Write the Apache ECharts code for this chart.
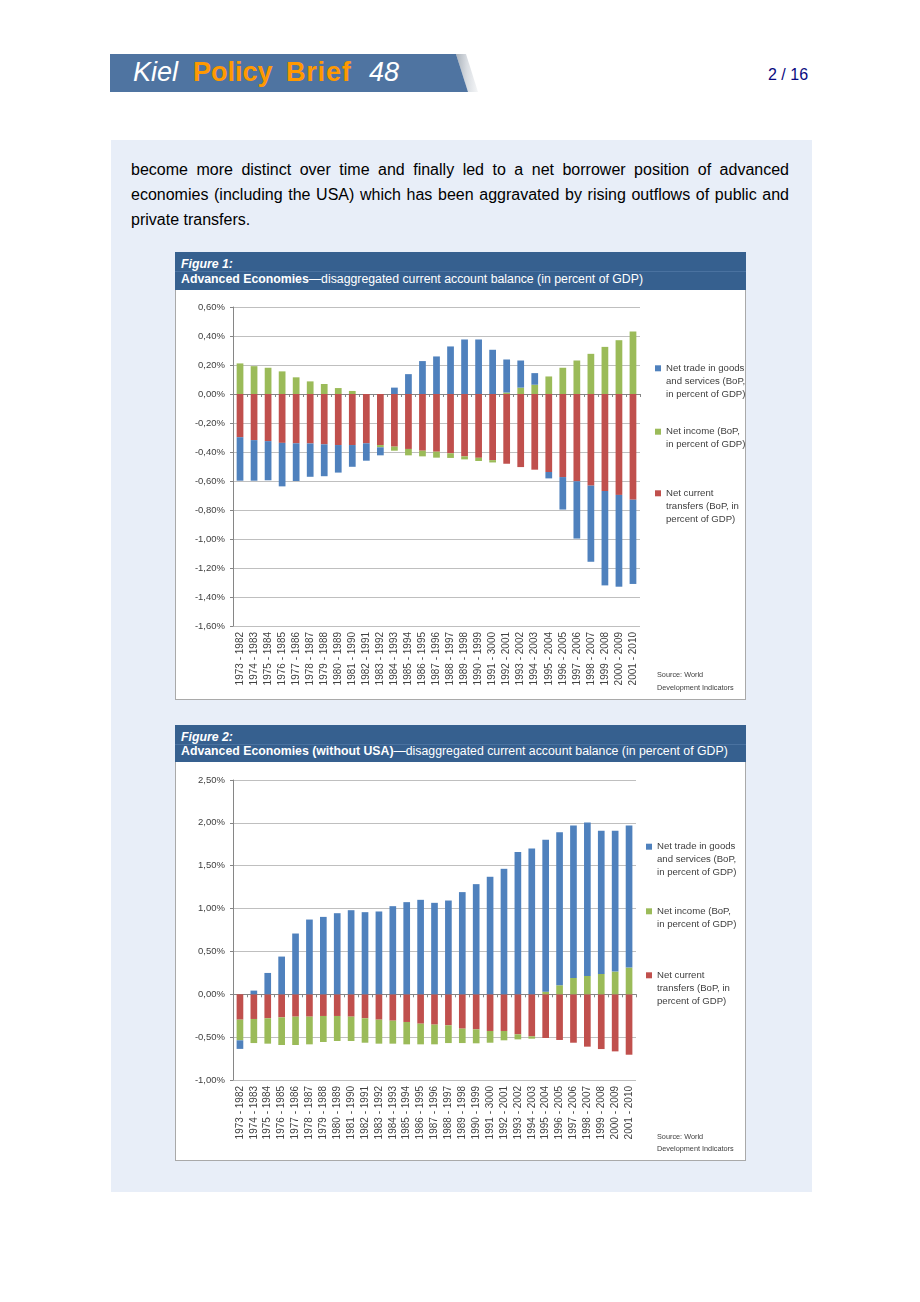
<!DOCTYPE html>
<html>
<head>
<meta charset="utf-8">
<script src="https://cdn.jsdelivr.net/npm/echarts@6/dist/echarts.min.js"></script>
<style>
  html, body { margin: 0; padding: 0; }
  body { width: 920px; height: 1302px; position: relative; background: #ffffff; overflow: hidden;
         font-family: "Liberation Sans", Arial, sans-serif; }
  .abs { position: absolute; }
  #bannerShadow { left: 452px; top: 54px; width: 30px; height: 38px;
     background: linear-gradient(90deg, #9aa3ad 0%, #d9dde2 50%, #ffffff 100%);
     clip-path: polygon(4px 0, 14px 0, 26px 38px, 16px 38px); }
  #banner { left: 110px; top: 54px; width: 360px; height: 38px; background: #4f74a1;
     clip-path: polygon(0 0, 346px 0, 358px 38px, 0 38px); }
  .bt { position: absolute; top: 59px; font-size: 27px; line-height: 27px; white-space: nowrap; }
  .it { font-style: italic; color: #ffffff; }
  .or { font-weight: bold; color: #ff9900; }
  #page { left: 768px; top: 66px; font-size: 16px; line-height: 18px; color: #0a0a80; }
  #box { left: 111px; top: 140px; width: 701px; height: 1052px; background: #e8eef8; }
  #para { left: 131px; top: 157px; width: 658px; font-size: 16px; line-height: 25px; color: #000; }
  #para .j { text-align: justify; text-align-last: justify; white-space: nowrap; }
  .fighead { position: absolute; left: 175px; width: 571px; background: #36608f; color: #fff;
             font-size: 12.3px; }
  .fighead .l1 { position: absolute; left: 6px; font-weight: bold; font-style: italic; }
  .fighead .l2 { position: absolute; left: 6px; white-space: nowrap; }
  .fighead .sep { position: absolute; left: 0; width: 100%; height: 1px; background: #4a72a0; }
  .chartbox { position: absolute; left: 175px; width: 569px; background: #ffffff;
              border: 1px solid #a9a9a9; border-top: none; }
</style>
</head>
<body>
<div id="box" class="abs"></div>
<div id="bannerShadow" class="abs"></div>
<div id="banner" class="abs"></div>
<span class="bt it" style="left:133px">Kiel</span>
<span class="bt or" style="left:193px">Policy</span>
<span class="bt or" style="left:286px;letter-spacing:0.8px">Brief</span>
<span class="bt it" style="left:369px">48</span>
<div id="page" class="abs">2 / 16</div>

<div id="para" class="abs">
  <div class="j">become more distinct over time and finally led to a net borrower position of advanced</div>
  <div class="j">economies (including the USA) which has been aggravated by rising outflows of public and</div>
  <div>private transfers.</div>
</div>

<div class="fighead" style="top:252px;height:38px;">
  <div class="l1" style="top:5px;">Figure 1:</div>
  <div class="sep" style="top:19px;"></div>
  <div class="l2" style="top:20px;"><b>Advanced Economies</b>—disaggregated current account balance (in percent of GDP)</div>
</div>
<div class="chartbox" style="top:290px;height:409px;"><div id="chart1" style="width:569px;height:409px;"></div></div>

<div class="fighead" style="top:725px;height:37px;">
  <div class="l1" style="top:5px;">Figure 2:</div>
  <div class="sep" style="top:19px;"></div>
  <div class="l2" style="top:19px;"><b>Advanced Economies (without USA)</b>—disaggregated current account balance (in percent of GDP)</div>
</div>
<div class="chartbox" style="top:762px;height:398px;"><div id="chart2" style="width:569px;height:398px;"></div></div>

<script>
// ---------- data ----------
const categories = [
  "1973 - 1982", "1974 - 1983", "1975 - 1984", "1976 - 1985", "1977 - 1986", "1978 - 1987",
  "1979 - 1988", "1980 - 1989", "1981 - 1990", "1982 - 1991", "1983 - 1992", "1984 - 1993",
  "1985 - 1994", "1986 - 1995", "1987 - 1996", "1988 - 1997", "1989 - 1998", "1990 - 1999",
  "1991 - 3000", "1992 - 2001", "1993 - 2002", "1994 - 2003", "1995 - 2004", "1996 - 2005",
  "1997 - 2006", "1998 - 2007", "1999 - 2008", "2000 - 2009", "2001 - 2010"
];

// Figure 1: Advanced Economies (percent of GDP)
const fig1Trade = [-0.30, -0.28, -0.27, -0.30, -0.26, -0.23, -0.22, -0.19, -0.15, -0.12,
  -0.055, 0.044, 0.137, 0.227, 0.259, 0.328, 0.376, 0.376, 0.305, 0.228,
  0.187, 0.08, -0.044, -0.224, -0.395, -0.525, -0.651, -0.633, -0.581];
const fig1Income = [0.211, 0.192, 0.181, 0.156, 0.115, 0.087, 0.069, 0.041, 0.021, 0,
  -0.016, -0.028, -0.044, -0.039, -0.041, -0.032, -0.021, -0.022, -0.016, 0.01,
  0.044, 0.064, 0.121, 0.181, 0.231, 0.277, 0.325, 0.371, 0.431];
const fig1Transfers = [-0.298, -0.318, -0.325, -0.337, -0.340, -0.341, -0.347, -0.352, -0.352, -0.340,
  -0.352, -0.363, -0.379, -0.391, -0.398, -0.409, -0.430, -0.440, -0.456, -0.481,
  -0.504, -0.522, -0.538, -0.573, -0.602, -0.632, -0.669, -0.696, -0.729];

// Figure 2: Advanced Economies without USA (percent of GDP)
const fig2Trade = [-0.10, 0.043, 0.249, 0.44, 0.709, 0.872, 0.903, 0.946, 0.981, 0.958,
  0.966, 1.028, 1.075, 1.102, 1.067, 1.094, 1.192, 1.285, 1.371, 1.464,
  1.659, 1.702, 1.772, 1.784, 1.779, 1.791, 1.67, 1.643, 1.658];
const fig2Income = [-0.241, -0.281, -0.296, -0.323, -0.331, -0.323, -0.304, -0.292, -0.284, -0.285,
  -0.28, -0.268, -0.261, -0.241, -0.23, -0.207, -0.168, -0.163, -0.137, -0.109,
  -0.059, -0.027, 0.031, 0.105, 0.191, 0.214, 0.238, 0.265, 0.312];
const fig2Transfers = [-0.296, -0.288, -0.28, -0.269, -0.261, -0.261, -0.253, -0.253, -0.261, -0.28,
  -0.296, -0.308, -0.323, -0.343, -0.354, -0.362, -0.401, -0.409, -0.428, -0.428,
  -0.467, -0.491, -0.51, -0.533, -0.565, -0.611, -0.639, -0.666, -0.705];

const seriesNames = [
  "Net trade in goods and services (BoP, in percent of GDP)",
  "Net income (BoP, in percent of GDP)",
  "Net current transfers (BoP, in percent of GDP)"
];
const legendLines = [
  ["Net trade in goods", "and services (BoP,", "in percent of GDP)"],
  ["Net income (BoP,", "in percent of GDP)"],
  ["Net current", "transfers (BoP, in", "percent of GDP)"]
];
const sourceText = "Source: World\nDevelopment Indicators";

// ---------- styling ----------
const FONT = '"Liberation Sans", Arial, sans-serif';
const COLORS = { trade: '#4f81bd', income: '#9bbb59', transfers: '#c0504d' };
const AXIS = '#868686', GRID = '#bfbfbf', TXT = '#404040';

function pct(v) {
  if (Math.abs(v) < 1e-9) v = 0;
  return v.toFixed(2).replace('.', ',') + '%';
}

function buildOption(cfg) {
  const L = 13;
  // blank leading lines keep the marker level with the first text line
  const legends = seriesNames.map((name, i) => {
    const n = legendLines[i].length;
    return {
      data: [name],
      orient: 'vertical',
      left: cfg.legendLeft,
      top: cfg.legendLineY[i] - (2 * n - 1) * L / 2,
      padding: 0,
      itemWidth: 6, itemHeight: 6, itemGap: 0,
      icon: 'rect',
      selectedMode: false,
      textStyle: { fontFamily: FONT, fontSize: 9.6, lineHeight: L, color: TXT },
      formatter: nm => {
        const lines = legendLines[seriesNames.indexOf(nm)];
        return '\n'.repeat(lines.length - 1) + lines.join('\n');
      }
    };
  });
  return {
    animation: false,
    backgroundColor: '#ffffff',
    textStyle: { fontFamily: FONT },
    title: {
      text: sourceText, left: 481, top: cfg.sourceTop, padding: 0,
      textStyle: { fontFamily: FONT, fontSize: 7.3, lineHeight: 12.5, fontWeight: 'normal', color: TXT }
    },
    legend: legends,
    grid: { left: 57, right: cfg.gridRight, top: cfg.gridTop, bottom: cfg.gridBottom,
            containLabel: false, outerBoundsMode: 'none' },
    xAxis: [
      {
        type: 'category', data: categories, position: 'bottom',
        axisLine: { show: false, onZero: false },
        axisTick: { show: false },
        splitLine: { show: false },
        axisLabel: { interval: 0, rotate: 90, fontSize: 10, color: TXT, margin: 6, fontFamily: FONT }
      },
      {
        type: 'category', data: categories, position: 'bottom',
        axisLine: { show: true, onZero: true, lineStyle: { color: AXIS, width: 1 } },
        axisTick: { show: true, interval: 0, length: 3, alignWithLabel: false, lineStyle: { color: AXIS } },
        axisLabel: { show: false },
        splitLine: { show: false }
      }
    ],
    yAxis: {
      type: 'value', min: cfg.min, max: cfg.max, interval: cfg.interval,
      axisLine: { show: true, lineStyle: { color: AXIS } },
      axisTick: { show: true, length: 3, lineStyle: { color: AXIS } },
      splitLine: { show: true, lineStyle: { color: GRID, width: 1 } },
      axisLabel: { formatter: pct, fontSize: 9.5, color: TXT, margin: 8, fontFamily: FONT }
    },
    series: [
      { name: seriesNames[2], type: 'bar', stack: 'a', data: cfg.transfers, barWidth: '48%',
        itemStyle: { color: COLORS.transfers }, xAxisIndex: 0 },
      { name: seriesNames[1], type: 'bar', stack: 'a', data: cfg.income, barWidth: '48%',
        itemStyle: { color: COLORS.income }, xAxisIndex: 0 },
      { name: seriesNames[0], type: 'bar', stack: 'a', data: cfg.trade, barWidth: '48%',
        itemStyle: { color: COLORS.trade }, xAxisIndex: 0 }
    ]
  };
}

const chart1 = echarts.init(document.getElementById('chart1'), null, { renderer: 'canvas' });
chart1.setOption(buildOption({
  trade: fig1Trade, income: fig1Income, transfers: fig1Transfers,
  min: -1.6, max: 0.6, interval: 0.2,
  gridRight: 105, gridTop: 17, gridBottom: 73,
  legendLeft: 479, legendLineY: [78.3, 141.7, 203.3],
  sourceTop: 379
}));

const chart2 = echarts.init(document.getElementById('chart2'), null, { renderer: 'canvas' });
chart2.setOption(buildOption({
  trade: fig2Trade, income: fig2Income, transfers: fig2Transfers,
  min: -1.0, max: 2.5, interval: 0.5,
  gridRight: 109, gridTop: 18, gridBottom: 80,
  legendLeft: 470, legendLineY: [84.7, 149.3, 213.3],
  sourceTop: 368.5
}));
</script>
</body>
</html>
